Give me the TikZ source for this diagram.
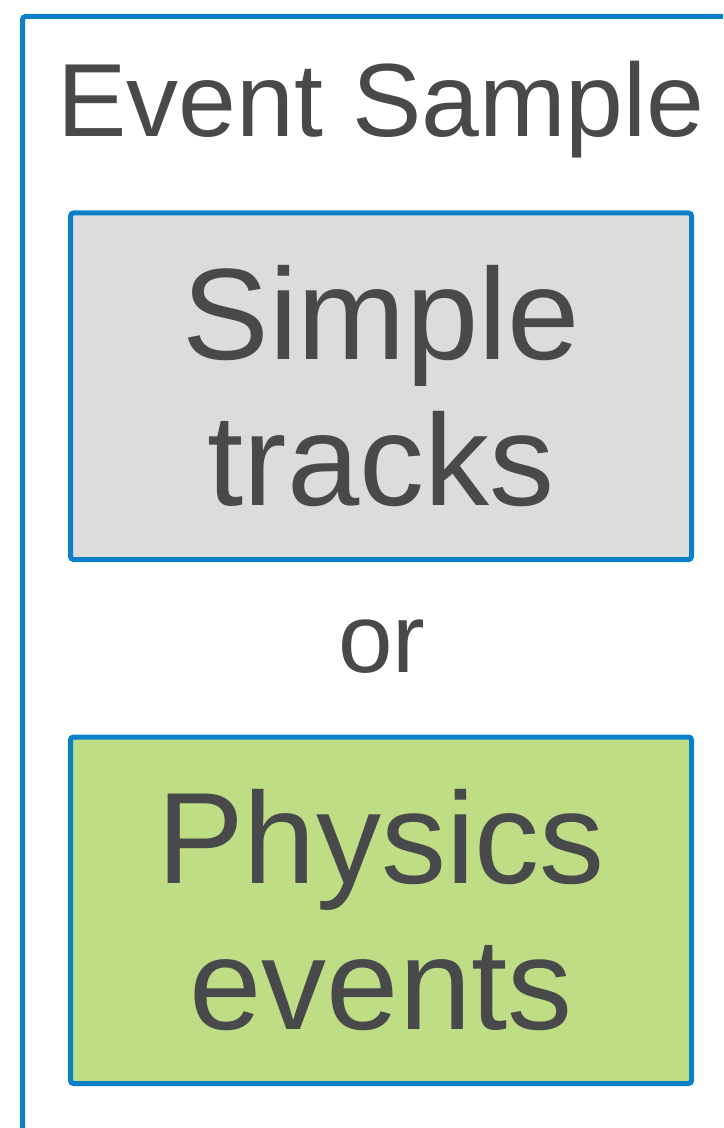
\documentclass[tikz,border=0pt]{standalone}
\usepackage{fontspec}
\setsansfont{Liberation Sans}
\definecolor{frameblue}{HTML}{0A80C8}
\definecolor{trackgray}{HTML}{DCDCDC}
\definecolor{physgreen}{HTML}{BFDD84}
\definecolor{inkgray}{HTML}{48494B}
\tikzset{
  frame/.style={draw=frameblue, line width=2.5pt, rounded corners=1.5pt},
  sample/.style={draw=frameblue, line width=2.5pt, rounded corners=1.5pt, align=center, text=inkgray, font=\sffamily\fontsize{65}{73}\selectfont, minimum width=310.5pt, minimum height=173.25pt, inner sep=0pt},
  lbl/.style={text=inkgray, inner sep=0pt, anchor=base}
}
\begin{document}
\begin{tikzpicture}[x=0.5pt, y=-0.5pt]
  \clip (0,0) rectangle (723,1128);
  \draw[frame] (22.5,16.5) rectangle (760,1170);
  \node[lbl, font=\sffamily\fontsize{52}{60}\selectfont] (title) at (381,137) {Event Sample};
  \node[sample, fill=trackgray] (simple) at (381,386.25) {Simple\\tracks};
  \node[lbl, font=\sffamily\fontsize{49}{57}\selectfont] (orlabel) at (382,672) {or};
  \node[sample, fill=physgreen] (physics) at (381,910.25) {Physics\\events};
\end{tikzpicture}
\end{document}
